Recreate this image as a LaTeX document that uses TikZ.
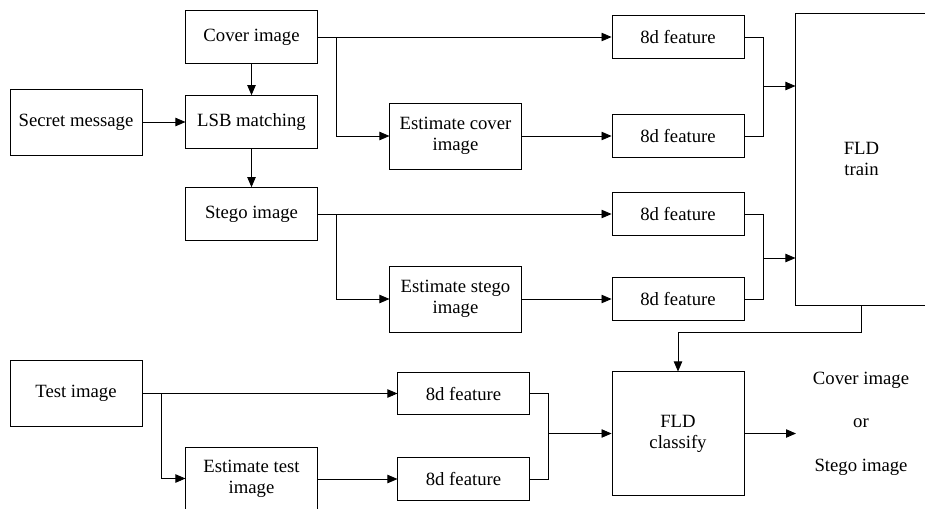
\documentclass[tikz,border=0pt]{standalone}
\usepackage{fontspec}
\setmainfont{Liberation Serif}
\usetikzlibrary{arrows.meta, positioning, calc}

\begin{document}
\begin{tikzpicture}[x=0.025cm, y=-0.025cm,
    >={Triangle[length=2.5mm, width=2.1mm]},
    line width=0.6pt,
    every node/.style={font=\fontsize{13.3}{15}\selectfont},
    box/.style={draw, align=center, inner sep=0pt, minimum width=3.28cm, minimum height=1.32cm},
    tall/.style={box, minimum height=1.65cm},
    feat/.style={box, minimum height=1.07cm}]
    \useasboundingbox (0,0) rectangle (925,508);

    % Embedding
    \node[box] (cover) at (251.5,37) {Cover image};
    \node[box] (lsb) at (251.5,122) {LSB matching};
    \node[tall, minimum width=3.3cm] (secret) at (76,122) {Secret message};
    \node[box] (stego) at (251.5,214) {Stego image};

    \draw[->] (cover) -- (lsb);
    \draw[->] (secret) -- (lsb);
    \draw[->] (lsb) -- (stego);

    % Training features
    \node[tall] (estcover) at (455.5,136) {Estimate cover\\image};
    \node[tall] (eststego) at (455.5,299) {Estimate stego\\image};
    \node[feat, minimum width=3.3cm] (feat1) at (678,37) {8d feature};
    \node[feat, minimum width=3.3cm] (feat2) at (678,136) {8d feature};
    \node[feat, minimum width=3.3cm] (feat3) at (678,214) {8d feature};
    \node[feat, minimum width=3.3cm] (feat4) at (678,299) {8d feature};
    \node[box, minimum width=3.28cm, minimum height=7.3cm] (train) at (861.5,159) {FLD\\train};

    \coordinate (split1) at (336,37);
    \coordinate (split2) at (336,214);
    \draw[->] (cover.east) -- (feat1.west);
    \draw[->] (split1) |- (estcover.west);
    \draw[->] (estcover) -- (feat2);
    \draw[->] (stego.east) -- (feat3.west);
    \draw[->] (split2) |- (eststego.west);
    \draw[->] (eststego) -- (feat4);

    % Merge into FLD train
    \coordinate (join1) at (763,86);
    \coordinate (join2) at (763,258);
    \draw (feat1.east) -| (join1);
    \draw (feat2.east) -| (join1);
    \draw[->] (join1) -- (train.west |- join1);
    \draw (feat3.east) -| (join2);
    \draw (feat4.east) -| (join2);
    \draw[->] (join2) -- (train.west |- join2);

    % Testing
    \node[tall, minimum width=3.3cm] (test) at (76,393.5) {Test image};
    \node[box, minimum height=1.575cm] (esttest) at (251.5,478.5) {Estimate test\\image};
    \node[feat] (feat5) at (463.5,393.5) {8d feature};
    \node[feat] (feat6) at (463.5,479) {8d feature};
    \node[box, minimum width=3.3cm, minimum height=3.08cm] (classify) at (678,433.5) {FLD\\classify};

    \coordinate (split3) at (161,393.5);
    \draw[->] (test.east) -- (feat5.west);
    \draw[->] (split3) |- (esttest.west);
    \draw[->] (esttest.east |- feat6) -- (feat6.west);

    \coordinate (join3) at (548,433.5);
    \draw (feat5.east) -| (join3);
    \draw (feat6.east) -| (join3);
    \draw[->] (join3) -- (classify.west);
    \draw[->] (train.south) -- ++(0,27) -| (classify.north);

    % Result
    \coordinate (result) at (796,433.5);
    \draw[->] (classify.east) -- (result);
    \node (out1) at (861,380) {Cover image};
    \node (outor) at (861,423) {or};
    \node (out2) at (861,467) {Stego image};
\end{tikzpicture}
\end{document}
